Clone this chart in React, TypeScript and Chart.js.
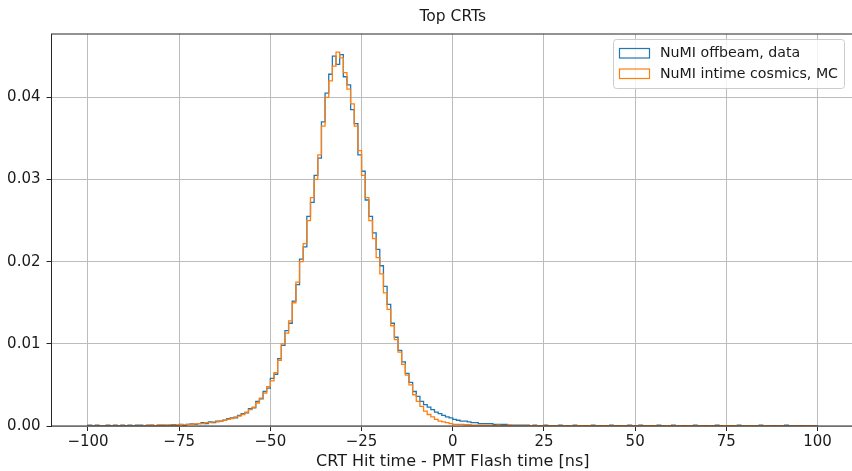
import React, { useEffect, useRef } from "react";
import { Chart, registerables } from "chart.js";

Chart.register(...registerables);

const TITLE = "Top CRTs";
const X_LABEL = "CRT Hit time - PMT Flash time [ns]";
const SERIES_NAMES = ["NuMI offbeam, data", "NuMI intime cosmics, MC"];
const SERIES_COLORS = ["#1f77b4", "#ff7f0e"];
const BIN_START = -100;
const BIN_WIDTH = 1;
const X_MIN = -110;
const X_MAX = 110;
const Y_MAX = 0.0477;
const X_TICKS = [-100, -75, -50, -25, 0, 25, 50, 75, 100];
const Y_TICKS = [0, 0.01, 0.02, 0.03, 0.04];

// NuMI offbeam, data  (bins of 1 ns starting at -100)
const dataValues = [
  /* -100 */ 0.0001, 0, 0.0001, 0, 0, 0.0001, 0, 0.0001, 0, 0.0001,
  /* -90 */ 0, 0.0001, 0, 0.0001, 0.0001, 0, 0.0001, 0.0001, 0, 0.0001,
  /* -80 */ 0.0001, 0.0001, 0.0001, 0.00015, 0.0001, 0.0002, 0.0001, 0.0002, 0.00025, 0.0002,
  /* -70 */ 0.0003, 0.0004, 0.0003, 0.0005, 0.0004, 0.0006, 0.0006, 0.0007, 0.0009, 0.001,
  /* -60 */ 0.001, 0.0013, 0.0015, 0.0016, 0.0021, 0.0022, 0.003, 0.0033, 0.0042, 0.0046,
  /* -50 */ 0.0058, 0.0063, 0.0082, 0.0098, 0.0116, 0.0125, 0.0152, 0.0172, 0.0203, 0.0218,
  /* -40 */ 0.0255, 0.0272, 0.0305, 0.0326, 0.037, 0.0405, 0.0428, 0.045, 0.044, 0.0452,
  /* -30 */ 0.0425, 0.0415, 0.0385, 0.0368, 0.033, 0.031, 0.0275, 0.0255, 0.0235, 0.0215,
  /* -20 */ 0.0195, 0.017, 0.0148, 0.0125, 0.0108, 0.0092, 0.0078, 0.0064, 0.0053, 0.0042,
  /* -10 */ 0.0036, 0.003, 0.0026, 0.0023, 0.002, 0.0017, 0.0015, 0.0013, 0.0011, 0.001,
  /* 0 */ 0.0008, 0.0007, 0.0006, 0.0006, 0.0005, 0.0004, 0.0004, 0.0003, 0.0003, 0.0003,
  /* 10 */ 0.0003, 0.0002, 0.0002, 0.0002, 0.0002, 0.0001, 0.0001, 0.0001, 0.0001, 0.0001,
  /* 20 */ 0.0001, 0, 0.0001, 0.00005, 0, 0.0001, 0, 0.00005, 0, 0.0001,
  /* 30 */ 0, 0.00005, 0, 0.0001, 0, 0, 0.00005, 0, 0.0001, 0,
  /* 40 */ 0.00005, 0, 0, 0.0001, 0, 0.00005, 0, 0, 0.0001, 0,
  /* 50 */ 0, 0.0001, 0, 0, 0.00005, 0, 0.0001, 0, 0, 0,
  /* 60 */ 0.0001, 0, 0, 0.00005, 0, 0, 0.0001, 0, 0, 0.00005,
  /* 70 */ 0, 0, 0.0001, 0, 0, 0, 0.00005, 0, 0.0001, 0,
  /* 80 */ 0, 0.00005, 0, 0, 0.0001, 0, 0, 0, 0.00005, 0,
  /* 90 */ 0, 0.0001, 0, 0, 0, 0.00005, 0, 0, 0, 0,
];

// NuMI intime cosmics, MC
const mcValues = [
  /* -100 */ 0, 0, 0, 0, 0, 0, 0, 0, 0, 0,
  /* -90 */ 0, 0, 0, 0, 0, 0, 0.00005, 0.0001, 0.00005, 0.0001,
  /* -80 */ 0.0001, 0.00005, 0.0001, 0.0001, 0.0001, 0.00015, 0.0001, 0.0002, 0.0002, 0.00025,
  /* -70 */ 0.0003, 0.0003, 0.0004, 0.0004, 0.0005, 0.0005, 0.0006, 0.0007, 0.0008, 0.0009,
  /* -60 */ 0.0011, 0.0012, 0.0014, 0.0017, 0.002, 0.0023, 0.0028, 0.0034, 0.004, 0.0048,
  /* -50 */ 0.0055, 0.0065, 0.008, 0.01, 0.0113, 0.0128, 0.015, 0.0175, 0.02, 0.0222,
  /* -40 */ 0.025, 0.0278, 0.03, 0.033, 0.0365, 0.04, 0.042, 0.0438, 0.0455, 0.0448,
  /* -30 */ 0.043, 0.041, 0.0392, 0.0365, 0.0335, 0.0305, 0.0278, 0.025, 0.0228, 0.0205,
  /* -20 */ 0.0185, 0.0162, 0.0142, 0.0122, 0.0105, 0.009, 0.0075, 0.0062, 0.005, 0.0038,
  /* -10 */ 0.003, 0.0024, 0.0018, 0.0014, 0.0011, 0.0008, 0.0006, 0.0005, 0.0004, 0.0003,
  /* 0 */ 0.0002, 0.0002, 0.0002, 0.00015, 0.00015, 0.0001, 0.0001, 0.0001, 0.0001, 0.0001,
  /* 10 */ 0.0001, 0.00005, 0.0001, 0.00005, 0.00005, 0.0001, 0.00005, 0.00005, 0.00005, 0.00005,
  /* 20 */ 0.00005, 0.00005, 0, 0.00005, 0.00005, 0, 0.00005, 0.00005, 0.00005, 0,
  /* 30 */ 0.00005, 0, 0.00005, 0, 0.00005, 0.00005, 0, 0.00005, 0, 0.00005,
  /* 40 */ 0, 0.00005, 0, 0.00005, 0, 0, 0.00005, 0, 0.00005, 0,
  /* 50 */ 0.00005, 0, 0, 0.00005, 0, 0.00005, 0, 0, 0.00005, 0,
  /* 60 */ 0, 0.00005, 0, 0, 0.00005, 0, 0, 0.00005, 0, 0,
  /* 70 */ 0.00005, 0, 0, 0, 0.00005, 0, 0, 0.00005, 0, 0,
  /* 80 */ 0, 0.00005, 0, 0, 0, 0.00005, 0, 0, 0, 0,
  /* 90 */ 0, 0, 0, 0, 0, 0, 0, 0, 0, 0,
];

const FONT = "'DejaVu Sans', sans-serif";
const TEXT_COLOR = "#1a1a1a";
const GRID_COLOR = "#bcbcbc";

function toSteps(vals: number[]) {
  const pts: { x: number; y: number }[] = [{ x: BIN_START, y: 0 }];
  vals.forEach((v, i) => pts.push({ x: BIN_START + i * BIN_WIDTH, y: v }));
  const end = BIN_START + vals.length * BIN_WIDTH;
  pts.push({ x: end, y: vals[vals.length - 1] });
  pts.push({ x: end, y: 0 });
  return pts;
}

const framePlugin = {
  id: "frameAndLegend",
  afterDraw(chart: any) {
    const { ctx, chartArea } = chart;
    ctx.save();
    ctx.strokeStyle = "#262626";
    ctx.lineWidth = 1;
    ctx.strokeRect(chartArea.left, chartArea.top, chartArea.right - chartArea.left, chartArea.bottom - chartArea.top);

    // legend (matplotlib-style, upper right)
    const bx = 613.5, by = 39.5, bw = 231, bh = 49;
    ctx.beginPath();
    (ctx as any).roundRect(bx, by, bw, bh, 3);
    ctx.fillStyle = "rgba(255,255,255,0.8)";
    ctx.fill();
    ctx.strokeStyle = "#cccccc";
    ctx.stroke();
    ctx.font = `14.2px ${FONT}`;
    ctx.textBaseline = "middle";
    ctx.textAlign = "left";
    const rows = [53, 73.5];
    SERIES_NAMES.forEach((name, i) => {
      const cy = rows[i];
      ctx.strokeStyle = SERIES_COLORS[i];
      ctx.lineWidth = 1.2;
      ctx.strokeRect(619.5, cy - 4.5, 30, 9.5);
      ctx.fillStyle = TEXT_COLOR;
      ctx.fillText(name, 660, cy + 0.5);
    });
    ctx.restore();
  },
};

export default function App() {
  const ref = useRef<HTMLCanvasElement | null>(null);
  useEffect(() => {
    document.body.style.margin = "0";
    const canvas = ref.current!;
    const chart = new Chart(canvas, {
      type: "line",
      data: {
        datasets: [
          {
            label: SERIES_NAMES[0],
            data: toSteps(dataValues),
            borderColor: SERIES_COLORS[0],
            borderWidth: 1.3,
            stepped: true,
            pointRadius: 0,
            fill: false,
            order: 1,
          },
          {
            label: SERIES_NAMES[1],
            data: toSteps(mcValues),
            borderColor: SERIES_COLORS[1],
            borderWidth: 1.3,
            stepped: true,
            pointRadius: 0,
            fill: false,
            order: 0,
          },
        ],
      },
      options: {
        animation: false,
        responsive: false,
        devicePixelRatio: 1,
        events: [],
        layout: { padding: { left: 0, right: 8, top: 0, bottom: 0 } },
        plugins: {
          legend: { display: false },
          tooltip: { enabled: false },
          title: {
            display: true,
            text: TITLE,
            fullSize: false,
            color: TEXT_COLOR,
            font: { family: FONT, size: 15.5, weight: "normal" },
            padding: { top: 8, bottom: 7.4 },
          },
        },
        scales: {
          x: {
            type: "linear",
            min: X_MIN,
            max: X_MAX,
            afterBuildTicks: (s: any) => {
              s.ticks = X_TICKS.map((v) => ({ value: v }));
            },
            afterFit: (s: any) => {
              s.height = 45;
            },
            grid: { color: GRID_COLOR, lineWidth: 1, tickLength: 5, tickColor: "#262626" },
            border: { display: false },
            ticks: {
              color: TEXT_COLOR,
              font: { family: FONT, size: 15 },
              padding: 2,
              maxRotation: 0,
              autoSkip: false,
              callback: (v: any) => String(v).replace("-", "\u2212"),
            },
            title: {
              display: true,
              text: X_LABEL,
              color: TEXT_COLOR,
              font: { family: FONT, size: 16 },
              padding: { top: 0, bottom: 0 },
            },
          },
          y: {
            type: "linear",
            min: 0,
            max: Y_MAX,
            afterBuildTicks: (s: any) => {
              s.ticks = Y_TICKS.map((v) => ({ value: v }));
            },
            afterFit: (s: any) => {
              s.width = 51.5;
            },
            grid: { color: GRID_COLOR, lineWidth: 1, tickLength: 5, tickColor: "#262626" },
            border: { display: false },
            ticks: {
              color: TEXT_COLOR,
              font: { family: FONT, size: 15 },
              padding: 6,
              callback: (v: any) => Number(v).toFixed(2),
            },
          },
        },
      },
      plugins: [framePlugin],
    } as any);
    return () => chart.destroy();
  }, []);
  return (
    <div style={{ width: 852, height: 471, overflow: "hidden", position: "relative", background: "#fff" }}>
      <canvas ref={ref} width={862} height={471} style={{ display: "block" }} />
    </div>
  );
}
